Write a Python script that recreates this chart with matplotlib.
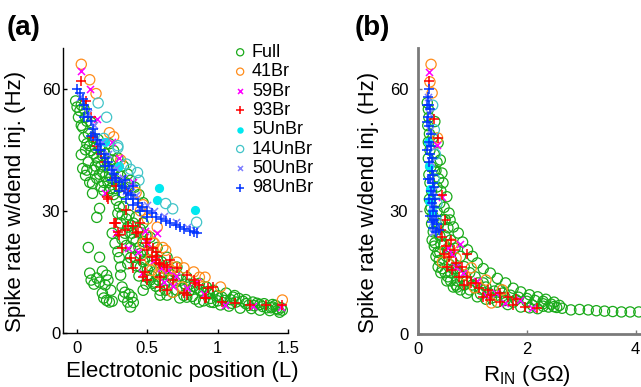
import matplotlib
matplotlib.use("Agg")
import matplotlib.pyplot as plt

plt.rcParams["font.family"] = ["Liberation Sans", "DejaVu Sans"]
plt.rcParams["mathtext.fontset"] = "custom"
plt.rcParams["mathtext.rm"] = "Liberation Sans"

# ==== Dados: painel (a) -> (posição eletrotônica L, taxa Hz) ====
full_a = [
    (-0.01, 57), (0.02, 54.6), (0.06, 53), (0.04, 50.5), (0.08, 49), (0.07, 46.5), (0.1, 44.8),
    (0.14, 43), (0.13, 41), (0.16, 39), (0.19, 37), (0.1, 51.7), (0.11, 48), (0.16, 45.6),
    (0.21, 42.4), (0.25, 40), (0.27, 37.5), (0.3, 35.8), (0.03, 43.8), (0.04, 40.4), (0.06, 38.7),
    (0.09, 37), (0.0, 55.5), (0.03, 56), (0.05, 55), (0.07, 52), (0.12, 47), (0.15, 47.5),
    (0.18, 43.5), (0.22, 40.5), (0.24, 38), (0.23, 46.5), (0.26, 44.8), (0.29, 43), (0.33, 41),
    (0.36, 39), (0.38, 37.5), (0.41, 35.8), (0.44, 34), (0.47, 32),
    (0.01, 53), (0.03, 51), (0.05, 48), (0.06, 45), (0.09, 46), (0.12, 44), (0.13, 45.5),
    (0.15, 42), (0.17, 41), (0.18, 39.5), (0.2, 38.5), (0.22, 37), (0.24, 35.5), (0.26, 34),
    (0.17, 36), (0.14, 38), (0.12, 40), (0.08, 42), (0.07, 40), (0.2, 44), (0.25, 42.5),
    (0.28, 40.5), (0.31, 38.5), (0.34, 37), (0.32, 34.5), (0.27, 35.5),
    (0.11, 36.7), (0.11, 34.3), (0.16, 30.6), (0.14, 28.4), (0.08, 21), (0.16, 18.6), (0.09, 14.7),
    (0.14, 13.5), (0.18, 15.2), (0.21, 14.2), (0.22, 13), (0.18, 9.8), (0.23, 7.6), (0.21, 8),
    (0.1, 13), (0.12, 12), (0.16, 12.5), (0.2, 11.8), (0.24, 10.5), (0.19, 8.6), (0.25, 7.8),
    (0.31, 16.2), (0.31, 14.2), (0.32, 11.3), (0.33, 8.8), (0.38, 6.4), (0.36, 7.6), (0.39, 8.8),
    (0.34, 10), (0.37, 9.5), (0.4, 7.5), (0.25, 24.5), (0.27, 22), (0.29, 20), (0.3, 18.5),
    (0.19, 35), (0.23, 35), (0.28, 32.6), (0.35, 35.8), (0.29, 29.4), (0.31, 27), (0.34, 24.5),
    (0.38, 21), (0.41, 18.6), (0.45, 16.2), (0.5, 13.7), (0.54, 12.2), (0.59, 10.5), (0.64, 9.3),
    (0.33, 31), (0.37, 29), (0.4, 27), (0.36, 26), (0.4, 23), (0.44, 21), (0.43, 25), (0.47, 22.5),
    (0.5, 20), (0.48, 18), (0.52, 16.5), (0.55, 15), (0.58, 13), (0.62, 12), (0.47, 27),
    (0.52, 23.5), (0.57, 21), (0.64, 18.6), (0.71, 16.2), (0.78, 13.7), (0.87, 12.2), (0.97, 10.5),
    (1.11, 8.8), (1.25, 7.6), (1.39, 6.4), (1.46, 5.6), (0.59, 9.3), (0.73, 8.6), (0.87, 7.6),
    (1.02, 6.9), (1.16, 6.1), (1.3, 5.6), (1.44, 5.1), (0.6, 16), (0.66, 14.5), (0.7, 12.5),
    (0.75, 11), (0.8, 10.5), (0.68, 10), (0.82, 9), (0.9, 9.8), (0.95, 8.5), (1.0, 9.2), (1.05, 8),
    (1.1, 7.3), (1.18, 7.8), (1.22, 6.8), (1.3, 7), (1.35, 6.2), (1.42, 6), (0.56, 11.5),
    (0.65, 13), (0.72, 14), (0.85, 11), (0.92, 11.3), (1.06, 9.8), (1.15, 8.5), (1.2, 8.2),
    (1.33, 7.2), (1.41, 6.8), (1.45, 6.2), (0.52, 13), (0.62, 14.8), (0.76, 9.2), (0.9, 7.9),
    (0.97, 7.5), (1.08, 6.6), (1.24, 6), (1.37, 5.5),
    (0.3, 31), (0.32, 29), (0.35, 28), (0.38, 26.5), (0.39, 24.5), (0.42, 22.5), (0.45, 19.5),
    (0.47, 17.5), (0.5, 15.5), (0.53, 14), (0.42, 28.5), (0.45, 25.5), (0.49, 24), (0.54, 20),
    (0.57, 18), (0.6, 17.5), (0.63, 15.8), (0.67, 13.5), (0.69, 15), (0.74, 13), (0.8, 12),
    (0.83, 11.5), (0.88, 10.5), (0.94, 9.6), (0.99, 9), (1.03, 8.8), (1.09, 8.2), (1.13, 7.6),
    (1.2, 7.2), (1.26, 6.7), (1.28, 7.3), (1.32, 6.5), (1.38, 6.2), (1.43, 5.7), (1.39, 7.0),
    (1.12, 9.2), (0.93, 10.2), (0.77, 12), (0.71, 10.5), (0.78, 8.8), (0.84, 8.3), (0.95, 7.6),
    (1.0, 7.9), (0.63, 10.5), (0.55, 12.5), (0.49, 12), (0.44, 14), (0.42, 16.5), (0.38, 18.5),
    (0.35, 21.5), (0.32, 23), (0.36, 17), (0.47, 10.5),
]
br41_a = [
    (0.03, 66), (0.09, 62.2), (0.135, 58.8), (0.26, 48.2), (0.23, 49.2), (0.31, 42.5), (0.57, 26),
    (0.63, 20.3), (0.71, 17.4), (0.83, 15), (0.91, 13.7), (1.02, 11.3), (1.46, 8.1), (0.75, 11.3),
    (0.68, 13.5), (0.45, 30), (0.5, 24), (0.55, 22), (0.6, 16), (0.66, 15.5), (0.7, 16.2),
    (0.76, 16), (0.52, 18), (0.58, 14.5), (0.5, 28), (0.42, 34.5), (0.47, 31.5), (0.47, 22),
    (0.54, 22.3), (0.61, 21), (0.53, 15.4), (0.87, 13.7), (0.68, 10),
]
br59_a = [
    (0.03, 64.4), (0.09, 60), (0.14, 52.6), (0.2, 34.3), (0.28, 24.5), (0.36, 20.8), (0.43, 20),
    (0.46, 14.7), (0.57, 24.5), (0.5, 22), (0.55, 18), (0.6, 16), (0.65, 15.5), (0.7, 14),
    (0.78, 11), (0.9, 9.5), (1.05, 7), (1.25, 6.6), (1.45, 6.5), (0.25, 47), (0.3, 43), (0.4, 37),
    (0.62, 12.5), (0.68, 11.5), (0.85, 12.5), (0.48, 25), (0.33, 38),
]
br93_a = [
    (0.03, 62), (0.065, 57), (0.1, 53), (0.11, 48.2), (0.14, 46), (0.17, 44), (0.2, 42),
    (0.27, 38), (0.28, 36), (0.22, 33), (0.28, 27), (0.3, 24), (0.32, 21), (0.38, 18.4), (0.4, 16),
    (0.35, 30.3), (0.36, 26.4), (0.43, 24.8), (0.45, 27), (0.48, 15), (0.5, 23.2), (0.57, 19),
    (0.59, 13.7), (0.62, 16.6), (0.66, 17.9), (0.68, 13), (0.54, 20.8), (0.59, 17), (0.78, 14.2),
    (0.84, 12.2), (0.93, 11), (0.91, 8.6), (1.03, 7.6), (1.12, 7.3), (1.23, 6.9), (1.34, 6.9),
    (1.46, 6.9), (0.21, 33.3), (0.27, 27), (0.29, 24.8), (0.47, 13.7), (0.5, 13), (0.53, 18.6),
    (0.58, 17.1), (0.59, 11.3), (0.64, 10.5), (0.76, 9.8), (0.78, 9.3), (0.83, 13), (0.87, 11.8),
    (0.92, 8.6), (0.97, 11.3), (0.35, 35), (0.34, 25.2), (0.4, 26.4), (0.42, 24.5), (0.49, 22),
    (0.5, 20.3), (0.56, 19.8), (0.56, 17.9), (0.64, 16.2), (0.71, 15.9), (0.45, 18), (0.26, 27),
]
unbr5_a = [(0.58, 35.5), (0.57, 32.6), (0.84, 30.1), (0.3, 41), (0.2, 47)]
unbr14_a = [
    (0.15, 56.5), (0.21, 53), (0.29, 45.5), (0.43, 39.4), (0.44, 37.5), (0.63, 31.8), (0.85, 27.2),
    (0.38, 40.2), (0.35, 41.5), (0.19, 47.8), (0.68, 30.5), (0.29, 46),
]
unbr50_a = [
    (0.02, 58), (0.08, 54), (0.12, 51), (0.18, 47), (0.22, 44), (0.28, 40.5), (0.33, 38),
    (0.38, 36), (0.42, 34), (0.5, 31.5), (0.55, 30), (0.62, 28.8), (0.7, 27.3), (0.78, 26),
    (0.84, 25.3), (0.15, 47), (0.25, 40), (0.35, 35), (0.45, 31),
]
unbr98_a = [
    (0.0, 60), (0.02, 59), (0.04, 57.5), (0.05, 56), (0.07, 55), (0.08, 53), (0.1, 52), (0.11, 50),
    (0.13, 49), (0.14, 47.5), (0.16, 46.5), (0.17, 45), (0.19, 44), (0.2, 43), (0.22, 42),
    (0.23, 41), (0.25, 40), (0.26, 39), (0.28, 38), (0.3, 37), (0.32, 36), (0.34, 35.5),
    (0.36, 34.5), (0.38, 34), (0.4, 33), (0.43, 32), (0.46, 31), (0.5, 30), (0.53, 29.5),
    (0.56, 28.5), (0.6, 28), (0.63, 27.5), (0.66, 27), (0.7, 26.5), (0.73, 26), (0.76, 25.5),
    (0.8, 25), (0.83, 24.8), (0.85, 24.5), (0.05, 53), (0.1, 48.5), (0.15, 45), (0.2, 41),
    (0.25, 37.5), (0.3, 35), (0.35, 33), (0.4, 31.5), (0.45, 30), (0.5, 28.5), (0.34, 37.5),
    (0.4, 36),
]

# ==== Dados: painel (b) -> (R_IN em GΩ, taxa Hz) ====
full_b = [
    (0.17, 56.6), (0.19, 55), (0.2, 53), (0.18, 51), (0.21, 49), (0.19, 47), (0.22, 45), (0.19, 43),
    (0.24, 41), (0.2, 39), (0.22, 37), (0.25, 35), (0.21, 33), (0.24, 31), (0.22, 30.4), (0.27, 29),
    (0.25, 27), (0.28, 25), (0.26, 23), (0.3, 21.5), (0.31, 22.3), (0.33, 19), (0.37, 16.4),
    (0.42, 15), (0.53, 13), (0.65, 11.5), (0.78, 10.8), (0.9, 10), (1.09, 9.1), (1.25, 8.5),
    (1.46, 7.8), (1.65, 7.2), (1.89, 6.6), (2.05, 6.4), (2.2, 6.2),
    (0.31, 52), (0.37, 46.8), (0.41, 42.6), (0.44, 39.4), (0.46, 37), (0.53, 33.6), (0.57, 29.6),
    (0.59, 27.9), (0.65, 26.2), (0.74, 24.7), (0.82, 22.5), (0.91, 20.6), (1.0, 19), (1.09, 17.4),
    (1.2, 16), (1.33, 14.9), (1.46, 13.6), (1.61, 12.5), (1.75, 11.2), (1.89, 10.3), (2.05, 9.6),
    (2.2, 9.1), (2.35, 8.5), (2.5, 7.8),
    (0.27, 48), (0.3, 44), (0.33, 40), (0.35, 36), (0.4, 32), (0.45, 28), (0.5, 24), (0.55, 21),
    (0.62, 18), (0.7, 16), (0.8, 14), (0.9, 13), (1.0, 12), (1.15, 11), (1.3, 10), (1.45, 9.5),
    (1.6, 9), (1.8, 8.4), (2.0, 8), (2.3, 7.4), (2.6, 7), (0.4, 20), (0.45, 17.5), (0.6, 15),
    (0.72, 13), (0.85, 12), (1.2, 12.5), (1.5, 11),
    (0.35, 30), (0.38, 27), (0.4, 24), (0.42, 22), (0.36, 20), (0.39, 18), (0.45, 16), (0.5, 15),
    (0.55, 14), (0.6, 13), (0.7, 12), (0.48, 22), (0.52, 19), (0.58, 17), (0.65, 16), (0.75, 15),
    (0.85, 16.5), (0.95, 15), (1.05, 14), (1.1, 12.5), (1.25, 11.5), (1.4, 10.5), (1.55, 10),
    (1.7, 9.5), (1.85, 9), (2.0, 8.7), (2.15, 8.2), (2.3, 8), (2.45, 7.3), (1.75, 7.8),
    (1.6, 8.2), (1.35, 8.8), (1.15, 9.8), (0.95, 10.8), (0.72, 11.5), (2.1, 7.1), (2.3, 6.8),
    (2.5, 6.7), (0.3, 40), (0.35, 42), (0.38, 38), (0.42, 35), (0.48, 31), (0.5, 28), (0.55, 26),
    (0.6, 23), (0.68, 21), (0.78, 19),
    (2.4, 6.6), (2.55, 6.5), (2.65, 6.3), (2.81, 5.9), (2.97, 6), (3.13, 5.9), (3.28, 5.7),
    (3.43, 5.6), (3.58, 5.5), (3.74, 5.4), (3.9, 5.4), (4.06, 5.4),
]
br41_b = [
    (0.24, 66), (0.22, 61.7), (0.26, 59), (0.36, 48), (0.45, 17.6), (0.63, 22), (0.98, 16.2),
    (1.25, 13.2), (1.55, 10.8), (1.35, 7.6), (1.04, 11.3), (0.7, 18.6), (0.5, 20.5), (0.85, 14.5),
]
br59_b = [
    (0.2, 64.2), (0.35, 46.3), (0.45, 33.6), (0.63, 19.6), (0.82, 14.9), (1.09, 13), (1.44, 10),
    (1.87, 8.3), (2.1, 6.4), (0.78, 22), (0.55, 21), (0.7, 16.5), (1.25, 9.5), (1.6, 7.5),
]
br93_b = [
    (0.2, 62), (0.3, 52.6), (0.36, 48), (0.45, 34), (0.43, 25.5), (0.45, 23.8), (0.52, 21.6),
    (0.48, 19.6), (0.57, 18.9), (0.54, 16.4), (0.63, 15.7), (0.7, 17.4), (0.76, 14), (0.81, 16.4),
    (0.9, 14), (0.98, 12.5), (1.07, 12.6), (1.13, 11.3), (1.28, 10.8), (1.35, 9.6), (1.5, 10),
    (1.65, 9.1), (1.81, 8.6), (1.5, 7.8), (1.74, 7.1), (1.96, 6.6), (2.19, 6.4), (1.33, 8.3),
    (0.91, 19.6), (0.61, 23), (0.5, 28), (0.66, 20.5), (0.85, 12), (1.2, 9),
]
unbr5_b = [(0.22, 35.5), (0.2, 32.6), (0.25, 30.1), (0.2, 41), (0.18, 47)]
unbr14_b = [(0.27, 56), (0.3, 50), (0.32, 44), (0.3, 38), (0.35, 32), (0.33, 28), (0.3, 26)]
unbr50_b = [
    (0.18, 58), (0.2, 54), (0.22, 50), (0.2, 46), (0.24, 42), (0.22, 38), (0.27, 35), (0.25, 31),
    (0.3, 28), (0.28, 25),
]
unbr98_b = [
    (0.2, 60), (0.18, 58), (0.2, 56), (0.22, 55), (0.19, 53), (0.21, 51), (0.23, 49), (0.2, 47),
    (0.24, 46), (0.22, 44), (0.26, 43), (0.2, 42), (0.25, 40), (0.28, 39), (0.22, 38), (0.27, 37),
    (0.3, 36), (0.24, 35), (0.28, 34), (0.32, 33), (0.25, 32), (0.3, 31), (0.27, 30), (0.33, 29),
    (0.3, 28), (0.35, 27), (0.28, 26), (0.33, 25), (0.38, 25.5), (0.16, 52), (0.17, 45),
    (0.18, 38), (0.2, 33), (0.22, 29), (0.17, 56), (0.25, 27.5),
]

LABELS = ["Full", "41Br", "59Br", "93Br", "5UnBr", "14UnBr", "50UnBr", "98UnBr"]
DADOS_A = [full_a, br41_a, br59_a, br93_a, unbr5_a, unbr14_a, unbr50_a, unbr98_a]
DADOS_B = [full_b, br41_b, br59_b, br93_b, unbr5_b, unbr14_b, unbr50_b, unbr98_b]

# estilo de cada série: (marcador, cor, preenchido, tamanho)
ESTILOS = [
    ("o", "#1aaa1a", False, 54),
    ("o", "#ff8c1a", False, 54),
    ("x", "#ff00ff", False, 26),
    ("+", "#ff0000", False, 55),
    ("o", "#00e8f0", True, 44),
    ("o", "#40c4c8", False, 54),
    ("x", "#7f7fff", False, 26),
    ("+", "#0033ff", False, 55),
]


def desenha(ax, dados):
    handles = []
    for pts, (mk, cor, cheio, s), lab in zip(dados, ESTILOS, LABELS):
        xs = [p[0] for p in pts]
        ys = [p[1] for p in pts]
        if mk == "o" and not cheio:
            h = ax.scatter(xs, ys, s=s, marker="o", facecolors="none", edgecolors=cor,
                           linewidths=0.9, label=lab)
        elif mk == "o":
            h = ax.scatter(xs, ys, s=s, marker="o", color=cor, linewidths=0, label=lab)
        else:
            h = ax.scatter(xs, ys, s=s, marker=mk, color=cor, linewidths=1.1, label=lab)
        handles.append(h)
    return handles


fig = plt.figure(figsize=(6.41, 3.87), dpi=100)
ax_a = fig.add_axes([63 / 641, 1 - 333 / 387, 225 / 641, 285 / 387])
ax_b = fig.add_axes([418 / 641, 1 - 334 / 387, 223 / 641, 286 / 387])

handles = desenha(ax_a, DADOS_A)
desenha(ax_b, DADOS_B)

for ax, cor, lw in [(ax_a, "black", 1.0), (ax_b, "#7a7a7a", 2.0)]:
    ax.spines["top"].set_visible(False)
    ax.spines["right"].set_visible(False)
    for lado in ["left", "bottom"]:
        ax.spines[lado].set_color(cor)
        ax.spines[lado].set_linewidth(lw)
    ax.set_ylim(0, 70)
    ax.set_yticks([0, 30, 60])
    ax.tick_params(direction="in", length=3, width=1, colors=cor, labelcolor="black",
                   labelsize=12)
    ax.set_ylabel("Spike rate w/dend inj. (Hz)", fontsize=16)
    ax.yaxis.set_label_coords(-0.165, 0.46)

ax_a.set_xlim(-0.1, 1.5)
ax_a.set_xticks([0, 0.5, 1, 1.5])
ax_a.set_xticklabels(["0", "0.5", "1", "1.5"])
ax_a.tick_params(axis="y", pad=2)
ax_a.tick_params(axis="x", pad=6)
ax_a.set_xlabel("Electrotonic position (L)", fontsize=16)
ax_a.xaxis.set_label_coords(0.53, -0.1)

ax_b.set_xlim(0, 4.1)
ax_b.set_xticks([0, 2, 4])
ax_b.tick_params(axis="y", pad=7)
ax_b.tick_params(axis="x", pad=6)
ax_b.set_xlabel(r"R$_{\mathrm{IN}}$ (GΩ)", fontsize=16)
ax_b.xaxis.set_label_coords(0.49, -0.1)
ax_b.yaxis.set_label_coords(-0.175, 0.46)

fig.legend(handles=handles, labels=LABELS, loc="upper left",
           bbox_to_anchor=(223 / 641, 1 - 35 / 387), frameon=False, fontsize=13,
           labelspacing=0.13, handletextpad=0.2, handlelength=0.9, borderpad=0,
           markerscale=0.7, scatterpoints=1)

fig.text(7 / 641, 1 - 15 / 387, "(a)", fontsize=20, fontweight="bold", va="top")
fig.text(355 / 641, 1 - 15 / 387, "(b)", fontsize=20, fontweight="bold", va="top")

fig.savefig("out.png", dpi=100)
